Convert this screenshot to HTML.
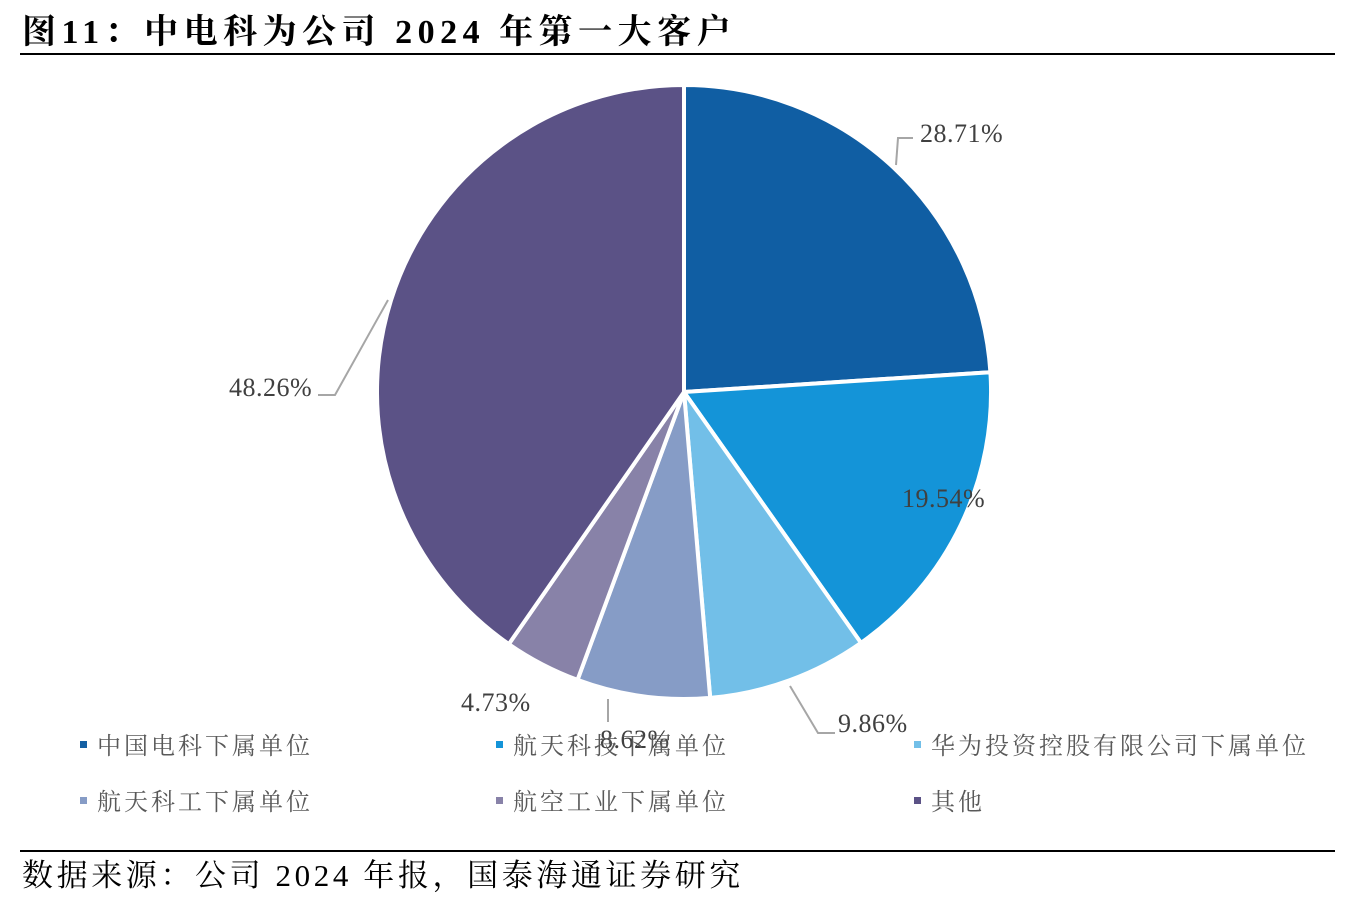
<!DOCTYPE html>
<html><head><meta charset="utf-8"><style>
body{margin:0;background:#fff;width:1348px;height:900px;overflow:hidden}
svg{display:block}
.t{font-family:"Liberation Serif","Noto Serif CJK SC",serif}
</style></head><body>
<svg id="s" width="1348" height="900" xmlns="http://www.w3.org/2000/svg">
<text x="22" y="43" class="t" font-size="34" font-weight="bold" fill="#000" letter-spacing="5.5">图11：中电科为公司 2024 年第一大客户</text>
<rect x="20" y="53" width="1315" height="2" fill="#000"/>
<g id="pie"></g>
<g fill="none" stroke="#a6a6a6" stroke-width="2">
<polyline points="913,138 898,138 896,165"/>
<polyline points="318,395 335,395 388,300"/>
<polyline points="790,686 818,733 835,733"/>
<polyline points="608,699 608,722"/>
</g>
<g class="t" font-size="26" fill="#404040" letter-spacing="0.5">
<text x="920" y="142">28.71%</text>
<text x="902" y="507">19.54%</text>
<text x="838" y="732">9.86%</text>
<text x="600" y="748">8.62%</text>
<text x="461" y="711">4.73%</text>
<text x="229" y="396">48.26%</text>
</g>
<g class="t" font-size="24" fill="#595959" letter-spacing="3">
<rect x="80" y="741" width="7" height="7" fill="#1460A3"/><text x="97" y="754">中国电科下属单位</text>
<rect x="496" y="741" width="7" height="7" fill="#1494D8"/><text x="513" y="754">航天科技下属单位</text>
<rect x="914" y="741" width="7" height="7" fill="#72BFE8"/><text x="931" y="754">华为投资控股有限公司下属单位</text>
<rect x="80" y="797" width="7" height="7" fill="#869CC6"/><text x="97" y="810">航天科工下属单位</text>
<rect x="496" y="797" width="7" height="7" fill="#8882A8"/><text x="513" y="810">航空工业下属单位</text>
<rect x="914" y="797" width="7" height="7" fill="#5B5286"/><text x="931" y="810">其他</text>
</g>
<rect x="20" y="850" width="1315" height="2" fill="#000"/>
<text x="22" y="886" class="t" font-size="31" fill="#000" letter-spacing="3.6">数据来源：公司 2024 年报，国泰海通证券研究</text>
</svg>
<script>
var cx=684,cy=392,r=307;
var b=[0,86.3,144.8,175.1,200.3,214.8,360];
var c=["#105EA3","#1494D8","#72BFE8","#869CC6","#8882A8","#5B5286"];
var g=document.getElementById("pie"),h="";
function p(a){a=a*Math.PI/180;return [(cx+r*Math.sin(a)).toFixed(1),(cy-r*Math.cos(a)).toFixed(1)];}
for(var i=0;i<6;i++){var s=p(b[i]),e=p(b[i+1]),l=(b[i+1]-b[i])>180?1:0;
h+='<path d="M'+cx+','+cy+' L'+s[0]+','+s[1]+' A'+r+','+r+' 0 '+l+' 1 '+e[0]+','+e[1]+' Z" fill="'+c[i]+'" stroke="#fff" stroke-width="4" stroke-linejoin="round"/>';}
g.innerHTML=h;
</script>
</body></html>
